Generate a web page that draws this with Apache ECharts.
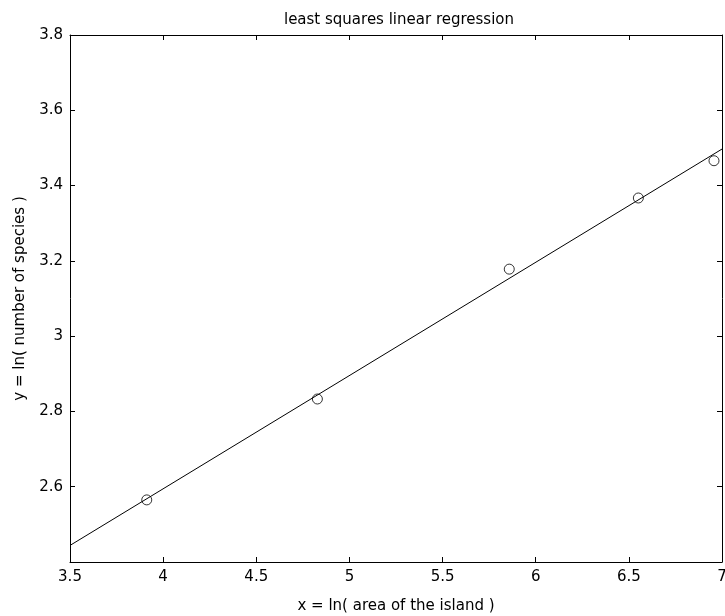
<!DOCTYPE html>
<html>
<head>
<meta charset="utf-8">
<title>least squares linear regression</title>
<script src="https://cdn.jsdelivr.net/npm/echarts@6/dist/echarts.min.js"></script>
<style>
  html, body { margin: 0; padding: 0; background: #fff; }
  #chart { width: 725px; height: 616px; }
</style>
</head>
<body>
<div id="chart"></div>
<script>
// observed points: x = ln(area), y = ln(species)
const areaLn = [3.912, 4.828, 5.858, 6.551, 6.957];
const speciesLn = [2.565, 2.833, 3.178, 3.367, 3.466];
// ends of the fitted line
const fitX = [3.5, 7];
const fitY = [2.444, 3.497];

const FONT = "DejaVu Sans";
const textStyle = { color: "#000", fontFamily: FONT, fontSize: 15 };
const axisLine = { show: true, lineStyle: { color: "#000", width: 1 } };
const tick = { show: true, inside: true, length: 5, lineStyle: { color: "#000" } };

const chart = echarts.init(document.getElementById("chart"));

const option = {
  animation: false,
  backgroundColor: "#fff",
  title: {
    text: "least squares linear regression",
    left: 394,
    top: 8,
    textAlign: "center",
    textStyle: { ...textStyle, fontWeight: "normal" },
  },
  grid: { left: 70, right: 3, top: 35, bottom: 54, outerBoundsMode: "none" },
  xAxis: [
    {
      type: "value",
      position: "bottom",
      min: 3.5,
      max: 7,
      interval: 0.5,
      name: "x = ln( area of the island )",
      nameLocation: "middle",
      nameGap: 37,
      nameTextStyle: textStyle,
      axisLine: axisLine,
      axisTick: tick,
      axisLabel: { ...textStyle, margin: 8 },
      splitLine: { show: false },
    },
    {
      type: "value",
      position: "top",
      min: 3.5,
      max: 7,
      interval: 0.5,
      axisLine: axisLine,
      axisTick: tick,
      axisLabel: { show: false },
      splitLine: { show: false },
    },
  ],
  yAxis: [
    {
      type: "value",
      position: "left",
      min: 2.4,
      max: 3.8,
      interval: 0.2,
      name: "y = ln( number of species )",
      nameLocation: "middle",
      nameGap: 42,
      nameTextStyle: textStyle,
      axisLine: axisLine,
      axisTick: tick,
      axisLabel: { ...textStyle, margin: 7, showMinLabel: false },
      splitLine: { show: false },
    },
    {
      type: "value",
      position: "right",
      min: 2.4,
      max: 3.8,
      interval: 0.2,
      axisLine: axisLine,
      axisTick: tick,
      axisLabel: { show: false },
      splitLine: { show: false },
    },
  ],
  series: [
    {
      type: "line",
      data: fitX.map((x, i) => [x, fitY[i]]),
      symbol: "none",
      lineStyle: { color: "#000", width: 1 },
      z: 2,
    },
    {
      type: "scatter",
      data: areaLn.map((x, i) => [x, speciesLn[i]]),
      symbol: "circle",
      symbolSize: 10,
      itemStyle: { color: "rgba(0,0,0,0)", borderColor: "#000", borderWidth: 1 },
      z: 3,
    },
  ],
};

chart.setOption(option);
</script>
</body>
</html>
